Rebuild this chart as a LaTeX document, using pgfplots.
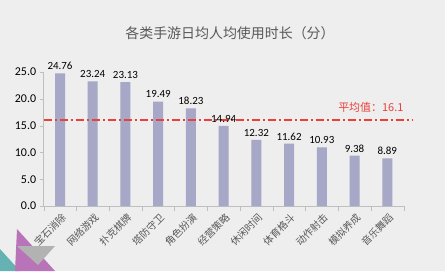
\documentclass[border=0pt]{standalone}
\usepackage{pgfplots}
\pgfplotsset{compat=1.18}
\usepackage{fontspec}
\setmainfont{Carlito}
\newfontfamily\cjk{Noto Sans CJK SC}
\definecolor{bg}{HTML}{EEEEEE}
\definecolor{barc}{HTML}{A7A7C7}
\definecolor{axc}{HTML}{BFBFBF}
\definecolor{avgred}{HTML}{E8403A}
\definecolor{titc}{HTML}{595959}
\begin{document}
\begin{tikzpicture}[x=1bp,y=1bp]
\fill[bg] (0,0) rectangle (445,271);
\useasboundingbox (0,0) rectangle (445,271);
% decoration bottom-left
\fill[teal!60] (0,0) -- (0,22) -- (20,0) -- cycle;
\fill[violet!55] (15,0) -- (55,0) -- (17,42) -- cycle;
\fill[gray!60] (17,25) -- (55,25) -- (38,6) -- cycle;
\node[font=\cjk\fontsize{14}{16}\selectfont, text=titc] at (230,238) {各类手游日均人均使用时长（分）};
\begin{axis}[
  at={(60bp,65bp)}, anchor=origin,
  scale only axis, width=360bp, height=134bp,
  xmin=-0.5, xmax=10.5, ymin=0, ymax=25,
  clip=false,
  axis line style={axc},
  axis x line=bottom, axis y line=left,
  separate axis lines,
  x axis line style={-}, y axis line style={-},
  xtick={0,...,10},
  xticklabels={宝石消除,网络游戏,扑克棋牌,塔防守卫,角色扮演,经营策略,休闲时间,体育格斗,动作射击,模拟养成,音乐舞蹈},
  x tick label style={font=\cjk\fontsize{10}{12}\selectfont, rotate=45, anchor=north east, text=titc, inner sep=1pt},
  major x tick style={draw=none},
  minor xtick={-0.5,0.5,1.5,2.5,3.5,4.5,5.5,6.5,7.5,8.5,9.5,10.5},
  minor x tick style={axc},
  minor tick length=5bp,
  ytick={0,5,...,25},
  yticklabel={\pgfmathprintnumber[fixed,fixed zerofill,precision=1]{\tick}},
  /pgf/number format/assume math mode=true,
  y tick label style={font=\fontsize{12}{14}\selectfont, text=black},
  tick align=outside,
  major tick length=4bp,
  tick style={axc},
  xticklabel style={yshift=-1bp},
]
\addplot[ybar, bar width=10bp, fill=barc, draw=none,
  nodes near coords,
  nodes near coords style={font=\fontsize{11}{13}\selectfont, text=black, /pgf/number format/fixed, /pgf/number format/precision=2, /pgf/number format/fixed zerofill}] coordinates {
(0,24.76) (1,23.24) (2,23.13) (3,19.49) (4,18.23) (5,14.94) (6,12.32) (7,11.62) (8,10.93) (9,9.38) (10,8.89)};
\addplot[color=avgred, draw=avgred, line width=2bp, mark=none, dash pattern=on 8bp off 3bp on 2bp off 3bp] coordinates {(-0.5,16.1) (10.8,16.1)};
\node[font=\cjk\fontsize{11}{13}\selectfont, text=avgred, anchor=south east] at (axis cs:10.6,16.8) {平均值：16.1};
\end{axis}
\end{tikzpicture}
\end{document}
